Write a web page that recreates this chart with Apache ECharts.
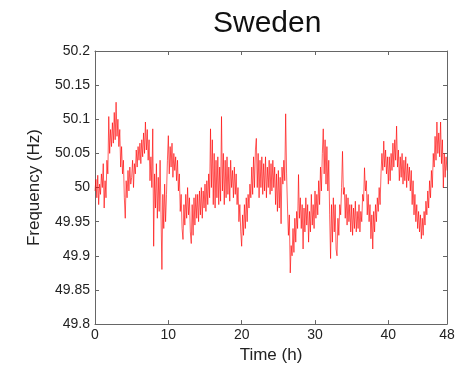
<!DOCTYPE html>
<html>
<head>
<meta charset="utf-8">
<script src="https://cdn.jsdelivr.net/npm/echarts@6/dist/echarts.min.js"></script>
<style>html,body{margin:0;padding:0;background:#fff}#c{width:458px;height:369px}</style>
</head>
<body>
<div id="c"></div>
<script>
// Chart text
const chartTitle = "Sweden";
const xName = "Time (h)";
const yName = "Frequency (Hz)";
// Axis ranges / ticks
const xTicks = [0, 10, 20, 30, 40, 48];
const yTicks = [49.8, 49.85, 49.9, 49.95, 50, 50.05, 50.1, 50.15, 50.2];
// Sample step (hours) between readings
const stepHours = 0.125;
// Frequency readings (Hz), 8 per hour
const freq = [
  49.995, 50.012, 49.985, 50.018, 49.975, 50.005, 49.99, 50.02,
  50.0, 50.035, 49.97, 50.01, 49.985, 50.04, 50.02, 50.104,
  50.05, 50.085, 50.06, 50.095, 50.065, 50.11, 50.07, 50.125,
  50.075, 50.1, 50.06, 50.085, 50.03, 50.06, 50.02, 50.04,
  49.985, 49.955, 50.01, 49.985, 50.025, 49.995, 50.03, 50.005,
  50.015, 50.04, 50.0, 50.035, 50.02, 50.055, 50.03, 50.06,
  50.04, 50.065, 50.035, 50.07, 50.045, 50.08, 50.05, 50.096,
  50.055, 50.085, 50.04, 50.07, 50.01, 50.045, 50.0, 50.086,
  49.914, 50.02, 49.97, 50.035, 49.955, 50.015, 49.965, 50.04,
  49.96, 49.88, 49.99, 49.94, 50.005, 49.95, 49.99, 50.04,
  50.076, 50.02, 50.06, 50.03, 50.065, 50.015, 50.05, 50.025,
  50.045, 50.01, 50.04, 49.995, 50.02, 49.965, 49.99, 49.94,
  49.924, 49.975, 49.945, 49.99, 49.955, 50.0, 49.96, 49.985,
  49.935, 49.918, 49.975, 49.93, 49.985, 49.945, 49.99, 49.955,
  49.99, 49.95, 49.995, 49.96, 50.0, 49.955, 49.995, 49.97,
  50.005, 49.965, 50.01, 49.975, 50.02, 49.985, 50.086, 50.0,
  50.07, 49.975, 50.05, 49.97, 50.04, 49.985, 50.045, 49.975,
  50.03, 49.98, 50.104, 49.995, 50.05, 49.975, 50.04, 49.985,
  50.045, 49.99, 50.03, 49.98, 50.04, 50.0, 50.025, 49.985,
  50.03, 49.99, 50.02, 49.975, 50.0, 49.95, 49.975, 49.935,
  49.914, 49.96, 49.93, 49.975, 49.94, 49.985, 49.95, 49.99,
  49.97, 50.005, 49.985, 50.03, 49.99, 50.045, 50.0, 50.055,
  50.072, 50.0, 50.05, 49.985, 50.04, 50.0, 50.045, 49.99,
  50.035, 49.995, 50.045, 49.985, 50.03, 50.0, 50.04, 49.99,
  50.035, 49.995, 50.04, 50.0, 50.03, 49.975, 50.02, 49.965,
  50.025, 49.97, 50.015, 49.947, 50.03, 50.005, 50.04, 50.01,
  50.108, 50.02, 49.97, 49.93, 49.96, 49.875, 49.915, 49.9,
  49.94, 49.905, 49.955, 49.92, 49.965, 49.94, 50.019, 49.955,
  49.985, 49.94, 49.975, 49.91, 49.97, 49.935, 49.985, 49.945,
  49.975, 49.92, 49.965, 49.935, 49.99, 49.945, 49.975, 49.94,
  49.995, 49.955, 49.99, 49.96, 50.01, 49.975, 50.03, 49.995,
  50.05, 50.086, 50.02, 50.07, 50.005, 50.06, 49.995, 50.04,
  49.96, 49.896, 49.975, 49.92, 49.985, 49.935, 49.975, 49.91,
  49.9, 49.955, 49.93, 49.975, 49.96, 50.0, 50.053, 49.99,
  50.0, 49.955, 49.99, 49.945, 49.985, 49.95, 49.975, 49.935,
  49.975, 49.93, 49.97, 49.94, 49.98, 49.935, 49.965, 49.94,
  49.975, 49.935, 49.965, 49.95, 49.99, 49.98, 50.029, 49.995,
  50.01, 49.96, 49.99, 49.95, 49.975, 49.925, 49.96, 49.91,
  49.965, 49.935, 49.975, 49.95, 49.985, 49.965, 50.0, 49.975,
  50.02, 50.05, 50.025, 50.068, 50.03, 50.055, 50.02, 50.045,
  50.005, 50.045, 50.01, 50.05, 50.025, 50.065, 50.03, 50.07,
  50.04, 50.09, 50.03, 50.055, 50.01, 50.045, 50.015, 50.05,
  50.005, 50.04, 50.01, 50.045, 50.0, 50.035, 50.01, 50.03,
  49.995, 50.025, 49.975, 50.01, 49.96, 49.99, 49.95, 49.975,
  49.94, 49.965, 49.935, 49.96, 49.925, 49.955, 49.93, 49.965,
  49.945, 49.98, 49.96, 49.995, 49.97, 50.01, 49.985, 50.025,
  50.0, 50.05, 50.03, 50.075, 50.04, 50.096, 50.05, 50.08,
  50.045, 50.096, 50.035, 50.07, 50.0, 50.05, 50.015, 50.045,
  50.025
];

const seriesData = freq.map((v, i) => [i * stepHours, v]);
const font = "'Liberation Sans', Arial, Helvetica, sans-serif";
const axisCol = '#666';
const txtCol = '#222';

const xMin = xTicks[0], xMax = xTicks[xTicks.length - 1];
const yMin = yTicks[0], yMax = yTicks[yTicks.length - 1];
const xInt = xTicks[1] - xTicks[0];
const yInt = 0.05;

const chart = echarts.init(document.getElementById('c'), null, {renderer: 'canvas'});
const baseAxis = {
  axisLine: {show: true, onZero: false, lineStyle: {color: axisCol, width: 1}},
  axisTick: {show: true, inside: true, length: 4, lineStyle: {color: axisCol}},
  splitLine: {show: false}
};
chart.setOption({
  animation: false,
  backgroundColor: '#fff',
  title: {
    text: chartTitle, left: 208, top: 4,
    textStyle: {fontFamily: font, fontSize: 30, fontWeight: 'normal', color: '#111'}
  },
  grid: {left: 95, right: 11, top: 51, bottom: 40},
  xAxis: [
    Object.assign({}, baseAxis, {
      type: 'value', min: xMin, max: xMax, interval: xInt, position: 'bottom',
      name: xName, nameLocation: 'middle', nameGap: 19,
      nameTextStyle: {fontFamily: font, fontSize: 17, color: txtCol},
      axisLabel: {fontFamily: font, fontSize: 14, color: txtCol, margin: 4}
    }),
    Object.assign({}, baseAxis, {
      type: 'value', min: xMin, max: xMax, interval: xInt, position: 'top',
      axisLabel: {show: false}
    })
  ],
  yAxis: [
    Object.assign({}, baseAxis, {
      type: 'value', min: yMin, max: yMax, interval: yInt, position: 'left',
      name: yName, nameLocation: 'middle', nameGap: 52,
      nameTextStyle: {fontFamily: font, fontSize: 17, color: txtCol},
      axisLabel: {fontFamily: font, fontSize: 14, color: txtCol, margin: 5}
    }),
    Object.assign({}, baseAxis, {
      type: 'value', min: yMin, max: yMax, interval: yInt, position: 'right',
      axisLabel: {show: false}
    })
  ],
  series: [{
    type: 'line', xAxisIndex: 0, yAxisIndex: 0,
    data: seriesData, showSymbol: false, symbol: 'none',
    lineStyle: {color: 'rgba(255,0,0,0.8)', width: 0.8},
    z: 1
  }]
});
</script>
</body>
</html>
